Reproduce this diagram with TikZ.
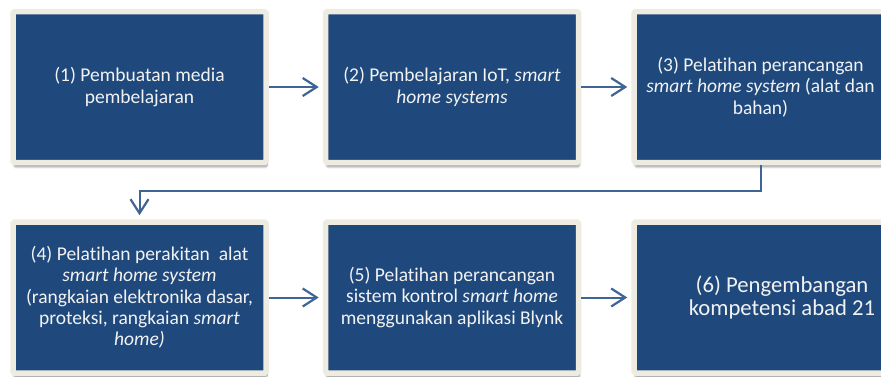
\documentclass[tikz,border=0pt]{standalone}
\usepackage{fontspec}
\setmainfont{Carlito}[Ligatures=NoCommon]
\usetikzlibrary{arrows.meta, positioning, shadows.blur}
\definecolor{boxblue}{HTML}{1F497D}
\definecolor{boxrim}{HTML}{EEECE1}
\definecolor{linkblue}{HTML}{3F6596}
\definecolor{boxtext}{HTML}{F2F2F2}

\begin{document}
\begin{tikzpicture}[x=1pt, y=1pt,
        stage/.style={draw=boxrim, line width=5.5pt, fill=boxblue, rounded corners=1.5pt,
            minimum width=253pt, minimum height=151pt, align=center, text=boxtext,
            font=\fontsize{19.5}{21.3}\selectfont,
            blur shadow={shadow xshift=1pt, shadow yshift=-4.5pt, shadow blur steps=6, shadow opacity=40}},
        link/.style={linkblue, line width=2pt, -{Straight Barb[length=14pt, width=18pt, line width=2.2pt]}, shorten >=4pt}]
    \useasboundingbox (0,0) rectangle (881,376);
    % top row
    \node[stage] (b1) at (139.5,289) {(1) Pembuatan media\\pembelajaran};
    \node[stage, right=54pt of b1] (b2) {(2) Pembelajaran IoT, \textit{smart}\\\textit{home systems}};
    \node[stage, right=50pt of b2] (b3) {(3) Pelatihan perancangan\\\textit{smart home system} (alat dan\\bahan)};
    % bottom row
    \node[stage, below=54pt of b1] (b4) {(4) Pelatihan perakitan\ \ alat\\\textit{smart home system}\\(rangkaian elektronika dasar,\\proteksi, rangkaian \textit{smart}\\\textit{home)}};
    \node[stage, right=54pt of b4] (b5) {(5) Pelatihan perancangan\\sistem kontrol \textit{smart home}\\menggunakan aplikasi Blynk};
    \node[stage, right=50pt of b5, minimum width=296pt, font=\fontsize{22.7}{23.5}\selectfont] (b6) {(6) Pengembangan\\kompetensi abad 21};
    % connectors
    \draw[link] (b1) -- (b2);
    \draw[link] (b2) -- (b3);
    \draw[link] (b3.south) -- ++(0,-26) -| (b4.north);
    \draw[link] (b4) -- (b5);
    \draw[link] (b5) -- (b6);
\end{tikzpicture}
\end{document}
